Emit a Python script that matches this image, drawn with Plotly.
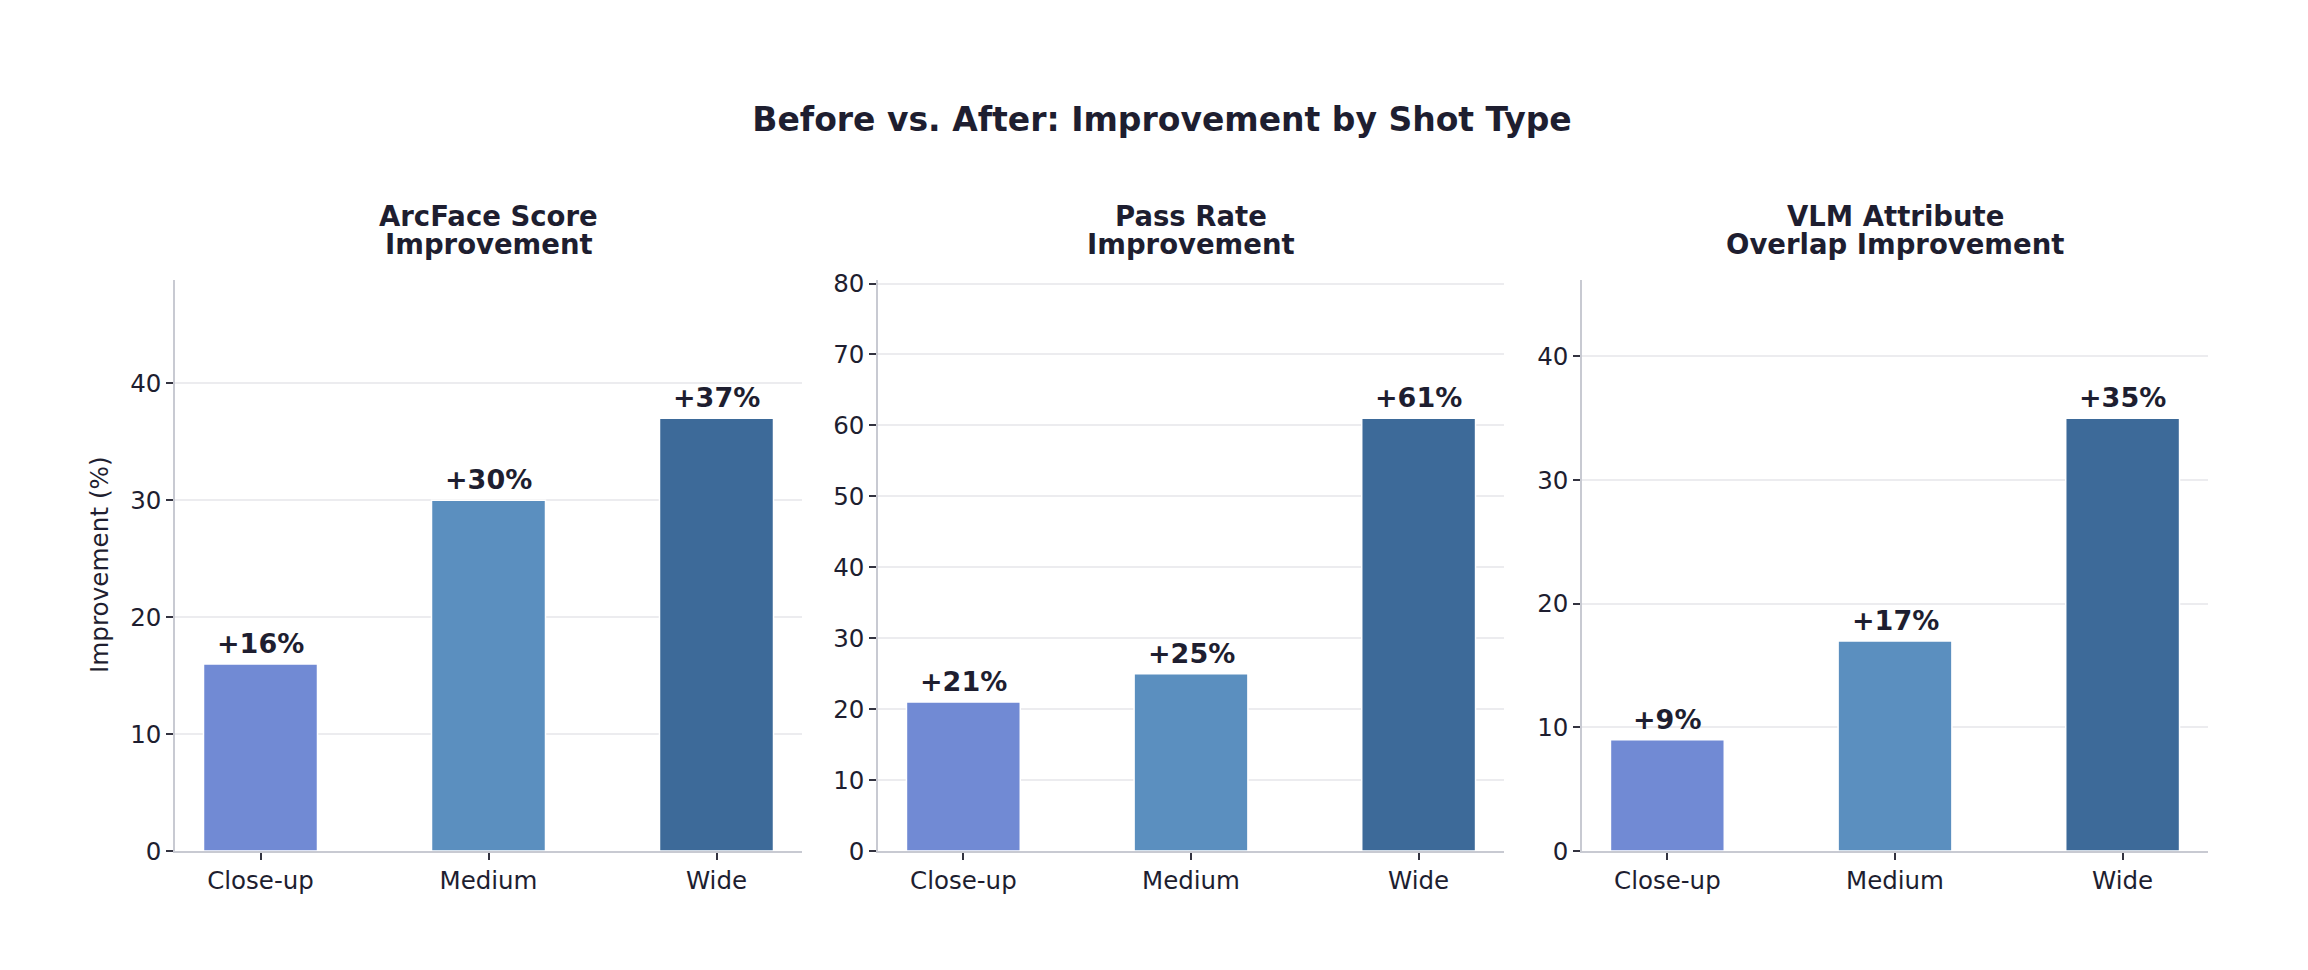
import plotly.graph_objects as go

# data
shot_types = ["Close-up", "Medium", "Wide"]
arcface_gain = [16, 30, 37]
pass_rate_gain = [21, 25, 61]
vlm_overlap_gain = [9, 17, 35]

panel_titles = [("ArcFace Score", "Improvement"), ("Pass Rate", "Improvement"),
                ("VLM Attribute", "Overlap Improvement")]
bar_colors = ["#718AD4", "#5B8FBF", "#3D6A99"]

W, H = 2308, 970
FONT = "DejaVu Sans"
INK = "#1e1e30"

# panel boxes in pixels (left, right), shared top/bottom
x_px = [(167, 794), (870, 1496), (1574, 2200)]
y_top, y_bot = 268, 855

fig = go.Figure()
series = [arcface_gain, pass_rate_gain, vlm_overlap_gain]

for i, vals in enumerate(series):
    n = "" if i == 0 else str(i + 1)
    fig.add_trace(go.Bar(x=shot_types, y=vals, width=0.5,
                         marker=dict(color=bar_colors, line=dict(color="white", width=1.5)),
                         xaxis="x" + n, yaxis="y" + n, showlegend=False, hoverinfo="x+y"))
    l, r = x_px[i]
    fig.update_layout(**{
        "xaxis" + n: dict(domain=[l / W, r / W], anchor="y" + n, range=[-0.375, 2.375],
                          showline=True, linecolor="#c8cad2", linewidth=1.5,
                          ticks="outside", ticklen=7, tickwidth=1.5, tickcolor="#333340",
                          showgrid=False, zeroline=False,
                          tickfont=dict(family=FONT, size=24.5, color=INK)),
        "yaxis" + n: dict(domain=[1 - y_bot / H, 1 - y_top / H], anchor="x" + n,
                          range=[0, max(vals) * 1.32], dtick=10,
                          showline=True, linecolor="#c8cad2", linewidth=1.5,
                          ticks="outside", ticklen=7, tickwidth=1.5, tickcolor="#333340",
                          showgrid=True, gridcolor="#ececef", gridwidth=1.5, zeroline=False,
                          tickfont=dict(family=FONT, size=24.5, color=INK)),
    })
    # value labels
    for cat, v in zip(shot_types, vals):
        fig.add_annotation(x=cat, y=v, xref="x" + n, yref="y" + n, text=f"<b>+{v}%</b>",
                           showarrow=False, yanchor="bottom", yshift=3,
                           font=dict(family=FONT, size=27, color=INK))
    # panel title, two lines
    for k, line in enumerate(panel_titles[i]):
        fig.add_annotation(x=(l + r) / 2 / W, y=1 - (202 + 29 * k) / H,
                           xref="paper", yref="paper", text=f"<b>{line}</b>",
                           showarrow=False, yanchor="middle", xanchor="center",
                           font=dict(family=FONT, size=27.5, color=INK))

fig.add_annotation(x=92 / W, y=1 - 560 / H, xref="paper", yref="paper",
                   text="Improvement (%)", textangle=-90, showarrow=False,
                   xanchor="center", yanchor="middle",
                   font=dict(family=FONT, size=24.7, color=INK))

fig.update_layout(
    width=W, height=H,
    margin=dict(l=0, r=0, t=0, b=0),
    paper_bgcolor="white", plot_bgcolor="white",
    title=dict(text="<b>Before vs. After: Improvement by Shot Type</b>",
               x=0.5, xanchor="center", y=1 - 111 / H, yanchor="middle",
               font=dict(family=FONT, size=33, color=INK)),
)

fig.write_html("out.html")
